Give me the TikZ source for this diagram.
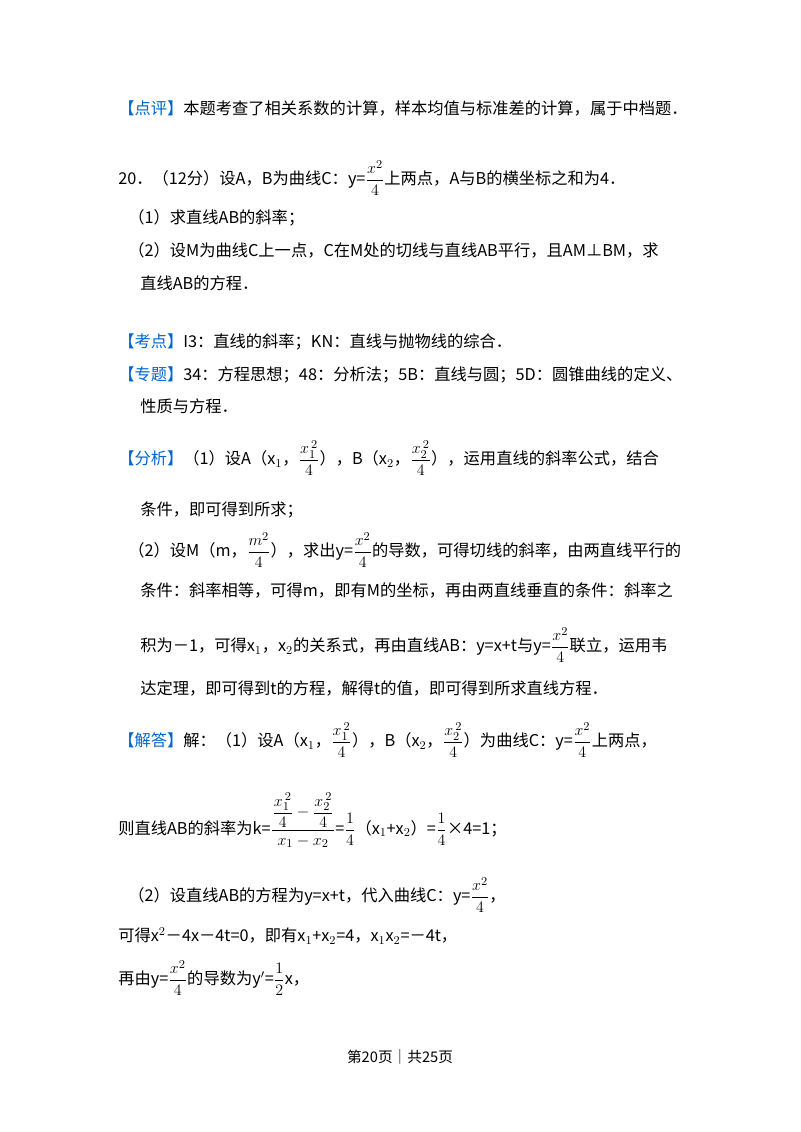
\documentclass[tikz,border=0pt]{standalone}
\usepackage{fontspec}
\setmainfont{Noto Sans CJK SC}
\usepackage{amsmath}
\definecolor{kblue}{RGB}{0,102,204}
\newcommand{\kb}[1]{\textcolor{kblue}{【#1】}}
\newcommand{\fr}[2]{$\dfrac{#1}{#2}$}
\begin{document}
\begin{tikzpicture}[x=0.75pt,y=-0.75pt,
  ln/.style={anchor=west,inner sep=0pt,font=\fontsize{12.2}{15}\selectfont}]
\useasboundingbox (0,0) rectangle (800,1132);
\node[ln] (l1) at (118,108) {\kb{点评}本题考查了相关系数的计算，样本均值与标准差的计算，属于中档题．};
\node[ln] (l2) at (118,178) {20．（12分）设A，B为曲线C：y=\fr{x^2}{4}上两点，A与B的横坐标之和为4．};
\node[ln] (l3) at (128,218) {（1）求直线AB的斜率；};
\node[ln] (l4) at (128,250) {（2）设M为曲线C上一点，C在M处的切线与直线AB平行，且AM⊥BM，求};
\node[ln] (l5) at (140,283) {直线AB的方程．};
\node[ln] (l6) at (118,342) {\kb{考点}I3：直线的斜率；KN：直线与抛物线的综合．};
\node[ln] (l7) at (118,375) {\kb{专题}34：方程思想；48：分析法；5B：直线与圆；5D：圆锥曲线的定义、};
\node[ln] (l8) at (140,406) {性质与方程．};
\node[ln] (l9) at (118,458) {\kb{分析}（1）设A（x$_1$，\fr{x_1^{\,2}}{4}），B（x$_2$，\fr{x_2^{\,2}}{4}），运用直线的斜率公式，结合};
\node[ln] (l10) at (140,510) {条件，即可得到所求；};
\node[ln] (l11) at (128,550) {（2）设M（m，\fr{m^2}{4}），求出y=\fr{x^2}{4}的导数，可得切线的斜率，由两直线平行的};
\node[ln] (l12) at (140,590) {条件：斜率相等，可得m，即有M的坐标，再由两直线垂直的条件：斜率之};
\node[ln] (l13) at (140,645) {积为－1，可得x$_1$，x$_2$的关系式，再由直线AB：y=x+t与y=\fr{x^2}{4}联立，运用韦};
\node[ln] (l14) at (140,688) {达定理，即可得到t的方程，解得t的值，即可得到所求直线方程．};
\node[ln] (l15) at (118,740) {\kb{解答}解：（1）设A（x$_1$，\fr{x_1^{\,2}}{4}），B（x$_2$，\fr{x_2^{\,2}}{4}）为曲线C：y=\fr{x^2}{4}上两点，};
\node[ln] (l16) at (118,820) {则直线AB的斜率为k=$\dfrac{\dfrac{x_1^{\,2}}{4}-\dfrac{x_2^{\,2}}{4}}{x_1-x_2}$=\fr{1}{4}（x$_1$+x$_2$）=\fr{1}{4}×4=1；};
\node[ln] (l17) at (128,895) {（2）设直线AB的方程为y=x+t，代入曲线C：y=\fr{x^2}{4}，};
\node[ln] (l18) at (118,936) {可得x$^2$－4x－4t=0，即有x$_1$+x$_2$=4，x$_1$x$_2$=－4t，};
\node[ln] (l19) at (118,978) {再由y=\fr{x^2}{4}的导数为y$'$=\fr{1}{2}x，};
\node[inner sep=0pt,font=\fontsize{11}{13}\selectfont] (ft) at (400,1057) {第20页｜共25页};
\end{tikzpicture}
\end{document}
